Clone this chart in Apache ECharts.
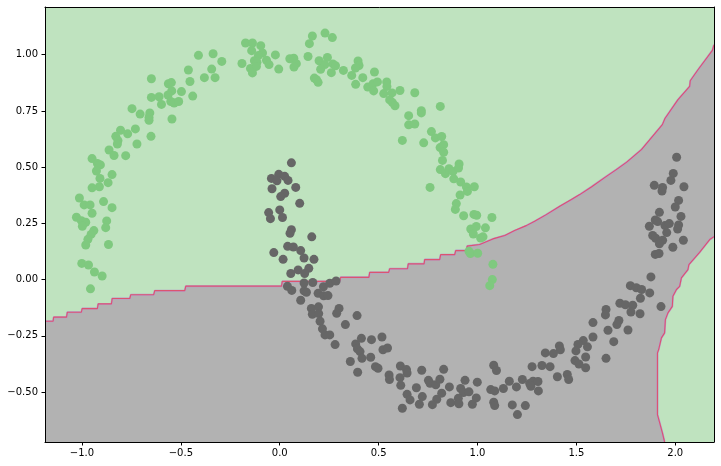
<!DOCTYPE html>
<html>
<head>
<meta charset="utf-8">
<script src="https://cdn.jsdelivr.net/npm/echarts@6/dist/echarts.min.js"></script>
<style>
  html, body { margin: 0; padding: 0; background: #fff; }
  #main { width: 721px; height: 466px; }
</style>
</head>
<body>
<div id="main"></div>
<script>
// axis ranges + ticks
var xMin = -1.187, xMax = 2.196;
var yMin = -0.722, yMax = 1.212;
var xTicks = [-1.0, -0.5, 0.0, 0.5, 1.0, 1.5, 2.0];
var xTickLabels = ['\u22121.0', '\u22120.5', '0.0', '0.5', '1.0', '1.5', '2.0'];
var yTicks = [-0.5, -0.25, 0.0, 0.25, 0.5, 0.75, 1.0];
var yTickLabels = ['\u22120.50', '\u22120.25', '0.00', '0.25', '0.50', '0.75', '1.00'];

// class 0 points (upper moon)
var greenPts = [
  [-0.173,1.052],[-0.138,1.052],[-0.096,1.040],[-0.142,1.018],[-0.087,1.008],[-0.108,0.996],
  [-0.022,0.999],[-0.128,0.973],[-0.115,0.966],[-0.067,0.975],[-0.054,0.956],[-0.191,0.961],
  [-0.148,0.939],[-0.118,0.948],[-0.138,0.919],[-0.005,0.936],[-0.411,0.997],[-0.337,1.004],
  [-0.293,0.970],[-0.344,0.936],[-0.462,0.932],[-0.381,0.898],[-0.327,0.898],[-0.454,0.881],
  [-0.440,0.816],[-0.497,0.836],[-0.563,0.871],[-0.548,0.876],[-0.546,0.839],[-0.565,0.821],
  [-0.551,0.792],[-0.534,0.785],[-0.511,0.792],[-0.545,0.714],[-0.649,0.893],[-0.649,0.810],
  [-0.610,0.813],[-0.598,0.779],[-0.747,0.760],[-0.706,0.736],[-0.657,0.741],[-0.661,0.721],
  [-0.661,0.708],[-0.730,0.670],[-0.651,0.637],[-0.805,0.664],[-0.769,0.648],[-0.829,0.637],
  [-0.818,0.618],[-0.821,0.603],[-0.722,0.603],[-0.863,0.576],[-0.838,0.552],[-0.779,0.551],
  [-0.949,0.538],[-0.922,0.516],[-0.907,0.510],[-0.927,0.483],[-0.848,0.467],[-0.909,0.450],
  [-0.868,0.431],[-0.912,0.413],[-0.949,0.408],[-1.013,0.363],[-0.891,0.347],[-0.989,0.332],
  [-0.959,0.332],[-0.848,0.320],[-0.949,0.295],[-1.028,0.277],[-1.003,0.262],[-0.981,0.255],
  [-0.998,0.237],[-0.875,0.261],[-0.880,0.231],[-0.940,0.218],[-0.954,0.201],[-0.970,0.179],
  [-0.981,0.154],[-0.866,0.156],[-1.001,0.072],[-0.967,0.065],[-0.937,0.034],[-0.898,0.016],
  [-0.957,-0.041],
  [0.165,1.083],[0.229,1.096],[0.266,1.076],[0.150,1.049],[0.051,0.982],[0.071,0.984],
  [0.143,0.992],[0.084,0.960],[0.072,0.945],[0.199,0.973],[0.241,0.988],[0.228,0.956],
  [0.207,0.935],[0.269,0.959],[0.282,0.951],[0.261,0.920],[0.175,0.896],[0.186,0.889],
  [0.194,0.877],[0.322,0.930],[0.396,0.972],[0.401,0.952],[0.383,0.941],[0.364,0.908],
  [0.420,0.898],[0.479,0.923],[0.384,0.868],[0.445,0.856],[0.472,0.871],[0.494,0.879],
  [0.541,0.879],[0.542,0.859],[0.475,0.839],[0.526,0.827],[0.568,0.830],[0.608,0.841],
  [0.683,0.831],[0.556,0.799],[0.570,0.787],[0.583,0.773],[0.716,0.751],[0.716,0.741],
  [0.812,0.770],[0.652,0.729],[0.652,0.688],[0.683,0.692],[0.620,0.619],[0.728,0.608],
  [0.767,0.658],[0.787,0.630],[0.819,0.636],[0.811,0.587],[0.829,0.600],[0.829,0.566],
  [0.823,0.530],[0.812,0.489],[0.838,0.471],[0.856,0.493],[0.876,0.481],[0.907,0.514],
  [0.904,0.496],[0.880,0.448],[0.915,0.434],[0.760,0.410],[0.944,0.412],[0.949,0.392],
  [0.984,0.413],[0.912,0.376],[0.893,0.338],[0.888,0.312],[0.930,0.284],[0.982,0.290],
  [0.996,0.286],[1.073,0.276],[0.966,0.225],[0.994,0.236],[1.040,0.230],[0.979,0.203],
  [1.028,0.190],[1.016,0.185],[0.957,0.126],[0.964,0.116],[1.001,0.117],[1.078,0.068],
  [1.075,0.000],[1.062,-0.027]
];

// class 1 points (lower moon)
var grayPts = [
  [0.059,0.519],[-0.042,0.450],[-0.005,0.468],[-0.014,0.439],[0.025,0.459],[0.042,0.441],
  [0.081,0.410],[-0.039,0.404],[0.025,0.384],[0.005,0.369],[0.101,0.339],[-0.056,0.298],
  [0.000,0.310],[-0.047,0.271],[0.014,0.276],[0.059,0.222],[0.052,0.206],[0.162,0.190],
  [0.040,0.148],[0.069,0.145],[0.106,0.129],[-0.030,0.120],[0.017,0.090],[0.123,0.096],
  [0.173,0.090],[0.093,0.043],[0.056,0.027],[0.147,0.050],[0.126,0.027],[0.123,-0.015],
  [0.167,-0.013],[0.039,-0.030],[0.061,-0.048],[0.123,-0.050],[0.135,-0.056],[0.221,-0.032],
  [0.253,-0.016],[0.285,-0.006],[0.194,-0.061],[0.222,-0.072],[0.244,-0.071],[0.106,-0.092],
  [0.160,-0.128],[0.196,-0.121],[0.165,-0.154],[0.197,-0.151],[0.300,-0.128],[0.288,-0.150],
  [0.391,-0.160],[0.204,-0.185],[0.332,-0.200],[0.216,-0.219],[0.229,-0.246],[0.253,-0.246],
  [0.280,-0.289],[0.384,-0.286],[0.413,-0.261],[0.464,-0.267],[0.517,-0.255],[0.393,-0.308],
  [0.406,-0.320],[0.416,-0.350],[0.357,-0.364],[0.460,-0.345],[0.522,-0.312],[0.545,-0.304],
  [0.484,-0.387],[0.497,-0.394],[0.394,-0.412],[0.553,-0.424],[0.555,-0.444],[0.610,-0.384],
  [0.641,-0.400],[0.644,-0.415],[0.608,-0.436],[0.718,-0.403],[0.829,-0.399],[0.612,-0.470],
  [0.691,-0.481],[0.752,-0.448],[0.760,-0.461],[0.789,-0.468],[0.810,-0.443],[0.858,-0.477],
  [0.937,-0.448],[0.999,-0.456],[0.644,-0.510],[0.659,-0.535],[0.721,-0.520],[0.794,-0.532],
  [0.819,-0.505],[0.915,-0.484],[0.929,-0.502],[0.957,-0.499],[0.903,-0.528],[0.865,-0.547],
  [0.906,-0.552],[0.772,-0.556],[0.706,-0.554],[0.620,-0.572],[0.974,-0.554],[0.994,-0.526],
  [2.007,0.544],[1.990,0.472],[1.978,0.441],[1.894,0.419],[1.936,0.410],[1.933,0.394],
  [2.044,0.413],[2.017,0.352],[2.000,0.323],[1.920,0.299],[2.029,0.281],[1.899,0.265],
  [1.911,0.258],[1.869,0.237],[1.948,0.240],[1.970,0.249],[2.017,0.243],[2.012,0.225],
  [1.957,0.209],[1.886,0.196],[1.901,0.184],[1.936,0.175],[1.920,0.159],[2.041,0.175],
  [1.988,0.144],[1.899,0.112],[1.918,0.116],[1.877,0.012],[1.773,-0.027],[1.803,-0.036],
  [1.830,-0.044],[1.824,-0.083],[1.871,-0.059],[1.928,-0.120],[1.720,-0.105],[1.748,-0.112],
  [1.785,-0.114],[1.776,-0.144],[1.822,-0.152],[1.650,-0.133],[1.647,-0.157],[1.584,-0.191],
  [1.715,-0.182],[1.705,-0.200],[1.660,-0.225],[1.761,-0.224],[1.584,-0.255],[1.689,-0.276],
  [1.535,-0.271],[1.508,-0.288],[1.556,-0.299],[1.414,-0.295],[1.419,-0.312],[1.343,-0.326],
  [1.384,-0.329],[1.498,-0.317],[1.547,-0.344],[1.493,-0.360],[1.513,-0.375],[1.547,-0.392],
  [1.650,-0.350],[1.276,-0.387],[1.326,-0.382],[1.367,-0.387],[1.082,-0.381],[1.096,-0.404],
  [1.404,-0.432],[1.454,-0.422],[1.461,-0.444],[1.227,-0.444],[1.264,-0.462],[1.281,-0.452],
  [1.306,-0.453],[1.270,-0.474],[1.308,-0.495],[1.161,-0.452],[1.197,-0.477],[1.131,-0.484],
  [1.067,-0.489],[1.087,-0.495],[1.082,-0.545],[1.087,-0.560],[1.176,-0.557],[1.242,-0.560],
  [1.202,-0.600]
];

// decision boundary, upper part (left -> right)
var upperEdge = [
  [-1.187,-0.185],[-1.146,-0.185],[-1.143,-0.167],[-1.078,-0.167],[-1.074,-0.145],[-1.003,-0.145],
  [-0.999,-0.129],[-0.922,-0.129],[-0.918,-0.108],[-0.851,-0.108],[-0.847,-0.084],[-0.758,-0.084],
  [-0.753,-0.067],[-0.637,-0.067],[-0.632,-0.049],[-0.480,-0.049],[-0.475,-0.029],[0.009,-0.029],
  [0.013,-0.008],[0.303,-0.008],[0.308,0.010],[0.451,0.010],[0.455,0.032],[0.551,0.032],
  [0.556,0.048],[0.646,0.048],[0.650,0.070],[0.730,0.070],[0.733,0.089],[0.809,0.089],
  [0.814,0.111],[0.885,0.111],[0.890,0.129],[0.944,0.129],[0.948,0.149],[1.011,0.156],
  [1.078,0.181],[1.138,0.196],[1.188,0.218],[1.247,0.240],[1.289,0.259],[1.348,0.289],
  [1.416,0.326],[1.475,0.356],[1.517,0.378],[1.576,0.412],[1.652,0.459],[1.702,0.489],
  [1.753,0.521],[1.829,0.578],[1.935,0.689],[1.948,0.716],[2.014,0.800],[2.073,0.859],
  [2.076,0.884],[2.115,0.933],[2.188,1.019],[2.196,1.044]
];
// decision boundary, lower right part (top -> bottom)
var lowerEdge = [
  [2.196,0.191],[2.174,0.178],[2.123,0.121],[2.069,0.067],[2.064,0.044],[2.031,0.008],
  [2.022,-0.030],[2.006,-0.044],[1.988,-0.074],[1.985,-0.119],[1.963,-0.148],[1.950,-0.178],
  [1.946,-0.237],[1.930,-0.259],[1.916,-0.311],[1.910,-0.326],[1.910,-0.600],[1.935,-0.681],
  [1.946,-0.722]
];

var grayRegion = upperEdge.concat(lowerEdge).concat([[xMin, yMin]]);

var chart = echarts.init(document.getElementById('main'));

function plainAxis(pos) {
  return {
    type: 'value', position: pos, z: 10,
    min: pos == 'top' || pos == 'bottom' ? xMin : yMin,
    max: pos == 'top' || pos == 'bottom' ? xMax : yMax,
    axisLine: { show: true, onZero: false, lineStyle: { color: '#000', width: 1 } },
    axisTick: { show: false }, axisLabel: { show: false }, splitLine: { show: false }
  };
}

chart.setOption({
  animation: false,
  backgroundColor: '#fff',
  grid: {
    left: 45, right: 7, top: 7, bottom: 24,
    show: true, backgroundColor: '#bfe3bf', borderWidth: 0
  },
  xAxis: [{
    type: 'value', min: xMin, max: xMax, z: 10,
    axisLine: { show: true, onZero: false, lineStyle: { color: '#000', width: 1 } },
    axisTick: { show: true, length: 3.5, customValues: xTicks, lineStyle: { color: '#000' } },
    axisLabel: {
      customValues: xTicks, margin: 6, color: '#000', fontSize: 10, fontFamily: 'DejaVu Sans',
      formatter: function (v) { return xTickLabels[xTicks.indexOf(v)]; }
    },
    splitLine: { show: false }
  }, plainAxis('top')],
  yAxis: [{
    type: 'value', min: yMin, max: yMax, z: 10,
    axisLine: { show: true, onZero: false, lineStyle: { color: '#000', width: 1 } },
    axisTick: { show: true, length: 3.5, customValues: yTicks, lineStyle: { color: '#000' } },
    axisLabel: {
      customValues: yTicks, margin: 7, color: '#000', fontSize: 10, fontFamily: 'DejaVu Sans',
      formatter: function (v) { return yTickLabels[yTicks.indexOf(v)]; }
    },
    splitLine: { show: false }
  }, plainAxis('right')],
  series: [
    {
      type: 'custom', coordinateSystem: 'cartesian2d', clip: true, silent: true,
      data: [[0, 0]],
      renderItem: function (params, api) {
        var pts = grayRegion.map(function (p) { return api.coord(p); });
        return { type: 'polygon', shape: { points: pts }, style: { fill: '#b2b2b2' } };
      }
    },
    {
      type: 'line', data: upperEdge, showSymbol: false, silent: true, z: 3,
      lineStyle: { color: '#b898cc', width: 2 }
    },
    {
      type: 'line', data: upperEdge, showSymbol: false, silent: true, z: 3,
      lineStyle: { color: '#dc5470', width: 1.1 }
    },
    {
      type: 'line', data: lowerEdge, showSymbol: false, silent: true, z: 3,
      lineStyle: { color: '#b898cc', width: 2 }
    },
    {
      type: 'line', data: lowerEdge, showSymbol: false, silent: true, z: 3,
      lineStyle: { color: '#dc5470', width: 1.1 }
    },
    {
      type: 'scatter', data: greenPts, symbolSize: 9, z: 4,
      itemStyle: { color: '#7fc97f', opacity: 1 }
    },
    {
      type: 'scatter', data: grayPts, symbolSize: 9, z: 4,
      itemStyle: { color: '#666666', opacity: 1 }
    }
  ]
});
</script>
</body>
</html>
